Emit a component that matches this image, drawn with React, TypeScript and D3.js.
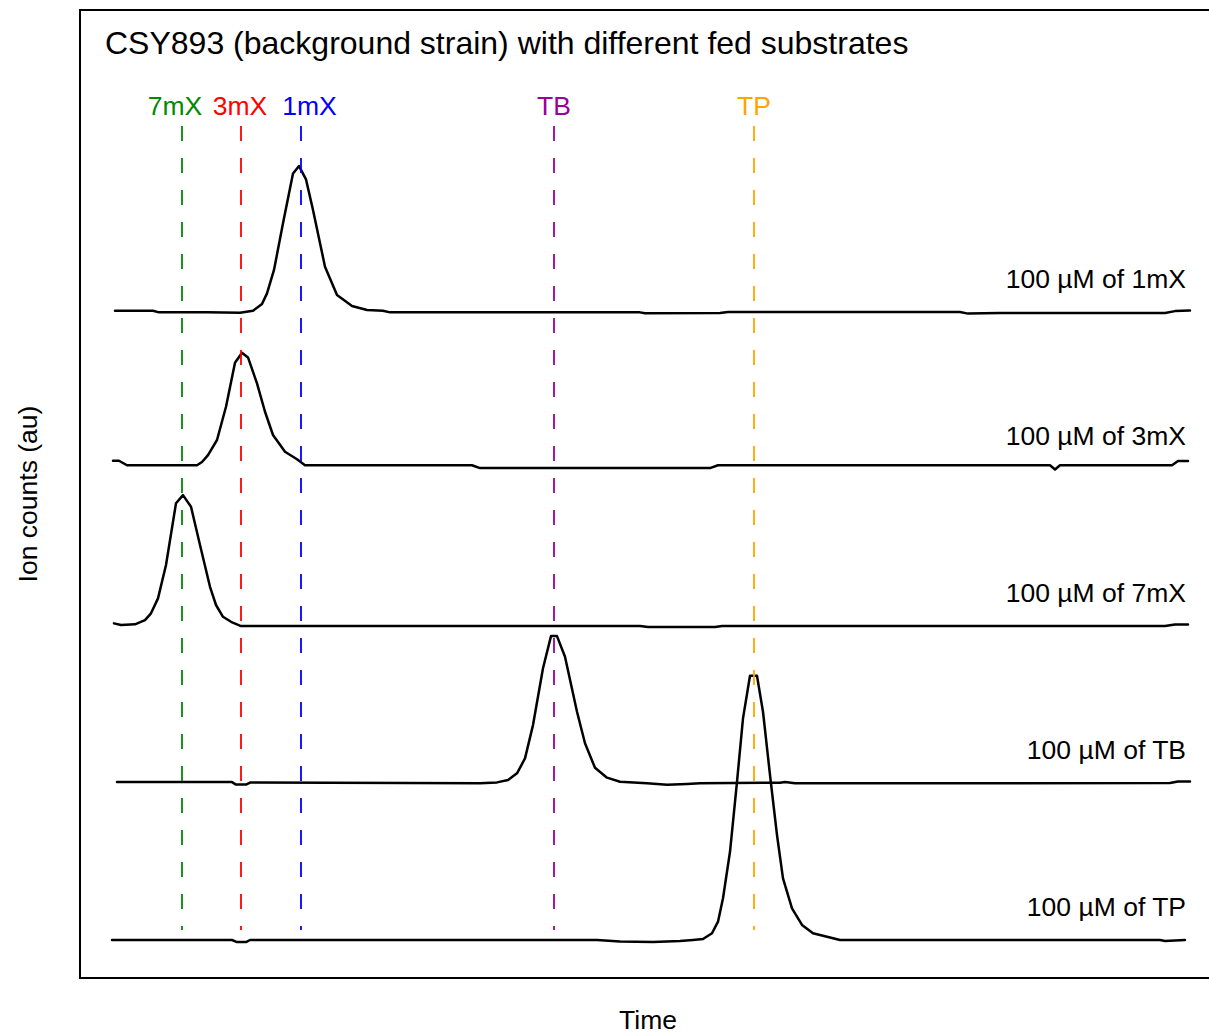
import React from "react";
import * as d3 from "d3";

const W = 1209;
const H = 1035;

// Extracted ion chromatograms: [retention time (s), ion counts (au)]
const trace1mX: [number, number][] = [
  [137.5, 0.8], [156.5, 0.8], [159.5, -0.2], [183.5, -0.2], [200, -0.4],
  [206.5, 0.8], [211, 5.1], [213.5, 11.9], [217, 26.8], [221.5, 56.5],
  [226.5, 88.3], [229.5, 93.0], [233, 84.5], [236.5, 65.0], [242.5, 28.9],
  [248.5, 10.8], [256, 3.8], [263.5, 1.3], [271.5, 0.8], [275, -0.2],
  [400, -0.2], [402.5, -0.8], [440, -0.6], [444, 0], [560, 0], [564, -1.0],
  [580, -0.6], [662.5, -0.6], [667.5, 0.6], [675, 1.0],
];

const trace3mX: [number, number][] = [
  [136.5, 5.3], [139.5, 5.3], [143.5, 2.4], [178.5, 2.4], [181, 4.5],
  [184, 8.9], [188.5, 18.5], [193, 39.7], [197.5, 67.7], [201, 74.1],
  [204, 71.1], [208.5, 54.6], [212.5, 36.5], [216.5, 21.7], [222.5, 11.0],
  [228.5, 6.2], [232.5, 2.4], [316, 2.4], [320, 0.6], [435, 0.6],
  [439, 2.4], [605, 2.4], [607.5, -0.3], [610, 2.4], [666, 2.4],
  [669, 5.1], [674, 5.1],
];

const trace7mX: [number, number][] = [
  [137, 1.7], [140.5, 0.6], [147.5, 1.1], [152.5, 3.8], [155.5, 8.1],
  [159, 17.6], [163, 38.9], [168, 78.2], [171.5, 83.4], [175.5, 76.0],
  [180, 51.6], [185, 25.0], [188, 13.4], [191.5, 5.9], [195.5, 2.7],
  [200.5, 0], [400, 0], [404, -0.6], [437.5, -0.6], [441, 0],
  [662.5, 0], [667.5, 1.0], [674, 1.0],
];

const traceTB: [number, number][] = [
  [138.5, 0.6], [196, 0.6], [198, -1.0], [203, -1.0], [205, 0.3],
  [320, -0.2], [328.5, 0.4], [334, 1.9], [338.5, 6.2], [342.5, 15.7],
  [346.5, 36.9], [351.5, 73.1], [355.5, 93.6], [358.5, 93.6], [362.5, 80.4],
  [368.5, 45.4], [372.5, 25.3], [377.5, 9.7], [383.5, 3.4], [390, 0.8],
  [403.5, -0.2], [413.5, -1.1], [423.5, -0.6], [430, -0.2], [470, 0.2],
  [472.5, 0.6], [477.5, -0.2], [665, 0], [669, 1.0], [675, 1.0],
];

const traceTP: [number, number][] = [
  [136, 0], [196, 0], [198.5, -1.3], [203, -1.3], [205, 0],
  [378.5, 0], [390, -1.0], [406.5, -1.3], [420, -0.6], [426.5, 0],
  [431.5, 0.6], [436, 4.3], [439, 11.7], [441.5, 26.6], [445, 56.2],
  [448.5, 100.8], [451.5, 141.2], [455, 168.3], [458.5, 168.3], [461.5, 145.4],
  [465, 105.1], [468.5, 66.9], [471.5, 39.3], [476, 20.2], [481, 9.6],
  [486.5, 4.3], [493.5, 2.1], [500, 0], [660, 0], [662.5, -0.6], [672.5, 0],
];

const sampleTraces = [trace1mX, trace3mX, trace7mX, traceTB, traceTP];
const sampleNames = [
  "100 µM of 1mX",
  "100 µM of 3mX",
  "100 µM of 7mX",
  "100 µM of TB",
  "100 µM of TP",
];
// vertical stacking offset of each chromatogram
const sampleOffsets = [400, 300, 200, 100, 0];

// retention times of the reference standards
const standardNames = ["7mX", "3mX", "1mX", "TB", "TP"];
const standardTimes = [171, 200.5, 230.5, 357, 457];
const standardLabelTimes = [167.5, 200, 234.75, 357, 457];
const standardColors = ["#008b00", "#ff0000", "#0000ff", "#9a009a", "#ffa500"];

const FONT = "'Liberation Sans', Arial, Helvetica, sans-serif";

export default function App() {
  const box = { left: 80, top: 10, right: 1216, bottom: 978 };

  const x = d3.scaleLinear().domain([120, 688]).range([box.left, box.right]);
  const y = d3.scaleLinear().domain([-24.2, 592.4]).range([box.bottom, box.top]);

  const lineFor = (offset: number) =>
    d3
      .line<[number, number]>()
      .x((d) => x(d[0]))
      .y((d) => y(d[1] + offset));

  const labelTime = 673;
  const labelLift = 15.5;
  const markerTop = 518.5;
  const markerBottom = 6.4;
  const markerLabelLevel = 525.5;

  return (
    <svg
      width={W}
      height={H}
      style={{ position: "absolute", left: 0, top: 0, background: "#fff" }}
      fontFamily={FONT}
    >
      <rect x={0} y={0} width={W} height={H} fill="#fff" />

      {sampleTraces.map((tr, i) => (
        <path
          key={sampleNames[i]}
          d={lineFor(sampleOffsets[i])(tr) || ""}
          fill="none"
          stroke="#000"
          strokeWidth={2.5}
          strokeLinejoin="round"
          strokeLinecap="round"
        />
      ))}

      {sampleNames.map((name, i) => (
        <text
          key={name}
          x={x(labelTime)}
          y={y(sampleOffsets[i] + labelLift)}
          textAnchor="end"
          fontSize={26.5}
          fill="#000"
        >
          {name}
        </text>
      ))}

      {standardNames.map((name, i) => (
        <g key={name}>
          <line
            x1={x(standardTimes[i])}
            x2={x(standardTimes[i])}
            y1={y(markerTop)}
            y2={y(markerBottom)}
            stroke={standardColors[i]}
            strokeWidth={1.8}
            strokeDasharray="15 17"
          />
          <text
            x={x(standardLabelTimes[i])}
            y={y(markerLabelLevel)}
            textAnchor="middle"
            fontSize={26.5}
            fill={standardColors[i]}
          >
            {name}
          </text>
        </g>
      ))}

      <text x={105} y={54} fontSize={32} fill="#000">
        CSY893 (background strain) with different fed substrates
      </text>

      <rect
        x={box.left}
        y={box.top}
        width={box.right - box.left}
        height={box.bottom - box.top}
        fill="none"
        stroke="#000"
        strokeWidth={2}
      />

      <text
        x={(box.left + box.right) / 2}
        y={1029}
        textAnchor="middle"
        fontSize={26.5}
        fill="#000"
      >
        Time
      </text>
      <text
        transform={`translate(37,${(box.top + box.bottom) / 2}) rotate(-90)`}
        textAnchor="middle"
        fontSize={26.5}
        fill="#000"
      >
        Ion counts (au)
      </text>
    </svg>
  );
}
